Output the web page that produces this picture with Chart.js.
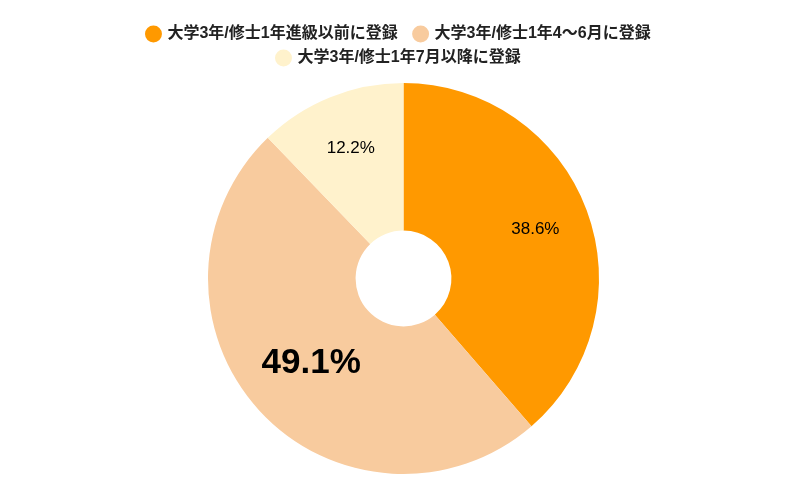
<!DOCTYPE html>
<html lang="ja">
<head>
<meta charset="utf-8">
<script src="https://cdn.jsdelivr.net/npm/chart.js@4"></script>
<style>
  html, body { margin: 0; padding: 0; background: #fff; }
  #wrap { width: 807px; height: 499px; }
</style>
</head>
<body>
<div id="wrap"><canvas id="graficoRegistro"></canvas></div>
<script>
// datos del gráfico
const categorias = ['大学3年/修士1年進級以前に登録', '大学3年/修士1年4～6月に登録', '大学3年/修士1年7月以降に登録'];
const valores = [38.6, 49.1, 12.2];
const colores = ['#FF9900', '#F8CB9E', '#FFF2CC'];

const fuente = '"Liberation Sans", "Noto Sans CJK JP", sans-serif';

// etiquetas de porcentaje dentro de cada sector
const etiquetasPlugin = {
    id: 'etiquetas',
    afterDatasetsDraw(chart) {
        const ctx = chart.ctx;
        const meta = chart.getDatasetMeta(0);
        ctx.save();
        ctx.textAlign = 'center';
        ctx.textBaseline = 'middle';
        ctx.fillStyle = '#000';
        meta.data.forEach(function (arc, i) {
            const mid = (arc.startAngle + arc.endAngle) / 2;
            const big = valores[i] === Math.max.apply(null, valores);
            const r = arc.outerRadius * (big ? 0.64 : 0.72);
            const x = arc.x + Math.cos(mid) * r;
            const y = arc.y + Math.sin(mid) * r;
            ctx.font = (big ? 'bold 35px ' : '17px ') + fuente;
            ctx.fillText(valores[i].toFixed(1) + '%', x, y);
        });
        ctx.restore();
    }
};

// un poco más de espacio debajo de la leyenda
const espacioLeyenda = {
    id: 'espacioLeyenda',
    beforeInit(chart) {
        const fitOriginal = chart.legend.fit;
        chart.legend.fit = function () {
            fitOriginal.call(this);
            this.height += 7;
        };
    }
};

new Chart(document.getElementById('graficoRegistro'), {
    type: 'doughnut',
    data: {
        labels: categorias,
        datasets: [{
            data: valores,
            backgroundColor: colores,
            borderWidth: 0
        }]
    },
    options: {
        responsive: true,
        maintainAspectRatio: false,
        animation: false,
        cutout: '24.5%',
        layout: { padding: { top: 18, bottom: 25, left: 110, right: 110 } },
        plugins: {
            legend: {
                position: 'top',
                labels: {
                    usePointStyle: true,
                    pointStyle: 'circle',
                    boxWidth: 12,
                    boxHeight: 12,
                    padding: 8,
                    color: '#222',
                    font: { family: fuente, size: 16, weight: 'bold' },
                    generateLabels(chart) {
                        // espacio extra entre elementos de la leyenda
                        const items = Chart.overrides.doughnut.plugins.legend.labels.generateLabels(chart);
                        items.forEach(function (it) { it.text = it.text + '  '; });
                        return items;
                    }
                }
            },
            tooltip: { enabled: false }
        }
    },
    plugins: [etiquetasPlugin, espacioLeyenda]
});
</script>
</body>
</html>
